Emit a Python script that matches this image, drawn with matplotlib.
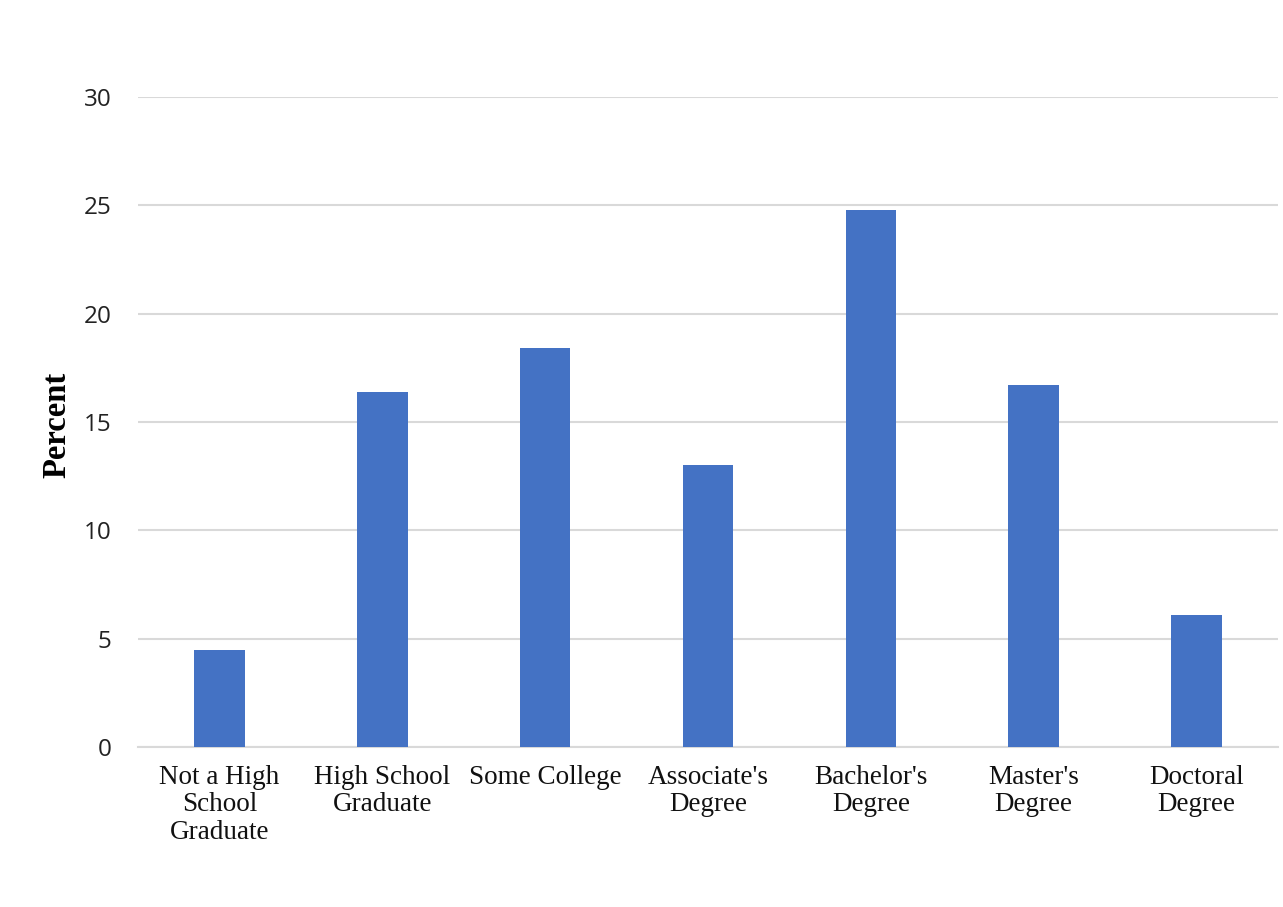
import matplotlib.pyplot as plt

categories = [
    "Not a High\nSchool\nGraduate",
    "High School\nGraduate",
    "Some College",
    "Associate's\nDegree",
    "Bachelor's\nDegree",
    "Master's\nDegree",
    "Doctoral\nDegree",
]
percent = [4.5, 16.4, 18.4, 13.0, 24.8, 16.7, 6.1]
y_ticks = [0, 5, 10, 15, 20, 25, 30]


def main():
    fig = plt.figure(figsize=(12.83, 9.07), dpi=100)
    ax = fig.add_axes([0.1076, 0.1764, 0.8884, 0.7166])

    x = range(len(categories))
    ax.bar(x, percent, width=0.31, color="#4472C4", zorder=3)

    ax.set_xlim(-0.5, len(categories) - 0.5)
    ax.set_ylim(0, 30)
    ax.set_yticks(y_ticks)
    ax.set_yticklabels([str(t) for t in y_ticks], family="Open Sans", fontsize=17.5, color="#222222")
    ax.set_xticks(list(x))
    ax.set_xticklabels(categories, family="Liberation Serif", fontsize=19.5,
                       linespacing=1.12, color="#111111")

    ax.grid(axis="y", color="#d9d9d9", linewidth=1.5, zorder=0)
    ax.tick_params(axis="y", length=0, pad=19)
    ax.tick_params(axis="x", length=0, pad=13)
    for side in ["top", "right", "left"]:
        ax.spines[side].set_visible(False)
    ax.spines["bottom"].set_color("#d9d9d9")
    ax.spines["bottom"].set_linewidth(1.5)

    fig.text(0.0445, 0.532, "Percent", rotation=90, ha="center", va="center",
             family="Liberation Serif", fontweight="bold", fontsize=23.5)

    fig.savefig("out.png", dpi=100, facecolor="white")


if __name__ == "__main__":
    main()
